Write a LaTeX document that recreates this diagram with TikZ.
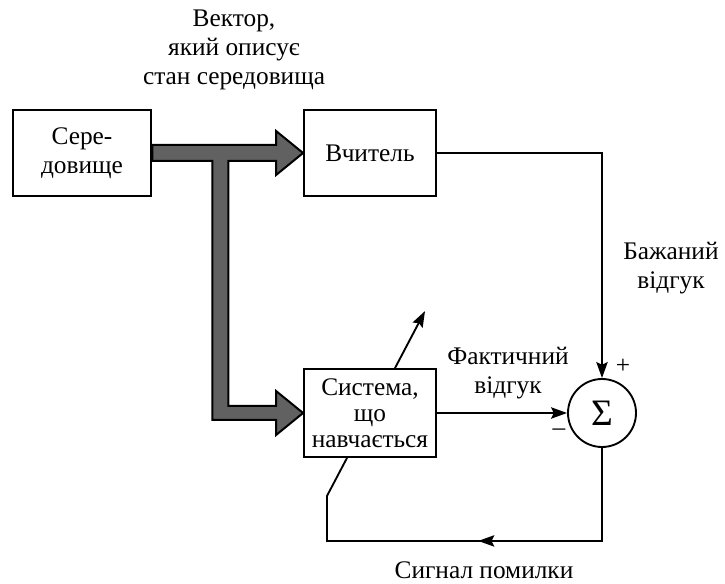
\documentclass[tikz,border=0pt]{standalone}
\usepackage{fontspec}
\setmainfont{Liberation Serif}
\usetikzlibrary{positioning,calc,arrows.meta}
\tikzset{block/.style={draw, line width=1.4pt, fill=white, align=center, inner sep=2pt,
                       font=\fontsize{19}{21.5}\selectfont},
         sig/.style={-{Stealth[length=12pt,width=8.5pt,inset=2pt]}, line width=1.4pt},
         wire/.style={line width=1.4pt},
         sumnode/.style={circle, draw, line width=1.4pt, minimum size=51pt, inner sep=0pt,
                         font=\fontsize{28}{28}\selectfont},
         lbl/.style={align=center, font=\fontsize{19}{21.5}\selectfont},
         bigarrow/.style={draw, line width=1.5pt, fill=black!62, line join=miter}
}

\begin{document}
\begin{tikzpicture}[x=0.75pt, y=-0.75pt]
    \useasboundingbox (0,0) rectangle (725,584);

    \node[block, minimum width=104pt, minimum height=64.5pt] (env)   at (82,153)  {Сере-\\довище};
    \node[block, minimum width=99pt, minimum height=64.5pt]  (teach) at (370,153) {Вчитель};
    \node[block, minimum width=99pt, minimum height=66pt,
          font=\fontsize{19}{19.5}\selectfont]               (learn) at (370,413) {Система,\\що\\навчається};
    \node[sumnode] (sum) at (602,413) {Σ};

    % wide input arrow
    \coordinate (j) at ($(env.east)+(68,0)$);
    \filldraw[bigarrow] ($(env.east)+(0,-8)$) -- ($(teach.west)+(-27,-8)$) -- ($(teach.west)+(-27,-22)$)
        -- (teach.west) -- ($(teach.west)+(-27,22)$) -- ($(teach.west)+(-27,8)$)
        -- ($(j)+(8,8)$) -- ($(j |- learn.west)+(8,-7)$) -- ($(learn.west)+(-27,-7)$)
        -- ($(learn.west)+(-27,-22)$) -- (learn.west) -- ($(learn.west)+(-27,22)$)
        -- ($(learn.west)+(-27,7)$) -- ($(j |- learn.west)+(-8,7)$) -- ($(j)+(-8,8)$)
        -- ($(env.east)+(0,8)$) -- cycle;

    \node[lbl] (vec)   at (234,50)  {Вектор,\\який описує\\стан середовища};
    \node[lbl] (des)   at (671,268) {Бажаний\\відгук};
    \node[lbl] (act)   at (508,373) {Фактичний\\відгук};
    \node[lbl] (err)   at (484,570) {Сигнал помилки};
    \node[lbl] (plus)  at (623,366) {+};
    \node[lbl] (minus) at (559,432) {–};

    \draw[sig] (teach.east) -| (sum.north);
    \draw[sig] (learn.east) -- (sum.west);

    % error feedback
    \coordinate (fb1) at ($(sum.south)+(0,93)$);
    \coordinate (fb2) at ($(fb1)+(-275,0)$);
    \coordinate (fb3) at ($(fb2)+(0,-45)$);
    \coordinate (lb) at ($(learn.south)+(-23,0)$);
    \coordinate (lt) at ($(learn.north)+(25,0)$);
    \coordinate (adj) at ($(lt)+(30,-57)$);
    \draw[wire] (sum.south) -- (fb1) -- (fb2) -- (fb3) -- (lb);
    \draw[sig] (fb1) -- ($(fb1)!0.45!(fb2)$);
    \draw[sig] (lt) -- (adj);
\end{tikzpicture}
\end{document}
